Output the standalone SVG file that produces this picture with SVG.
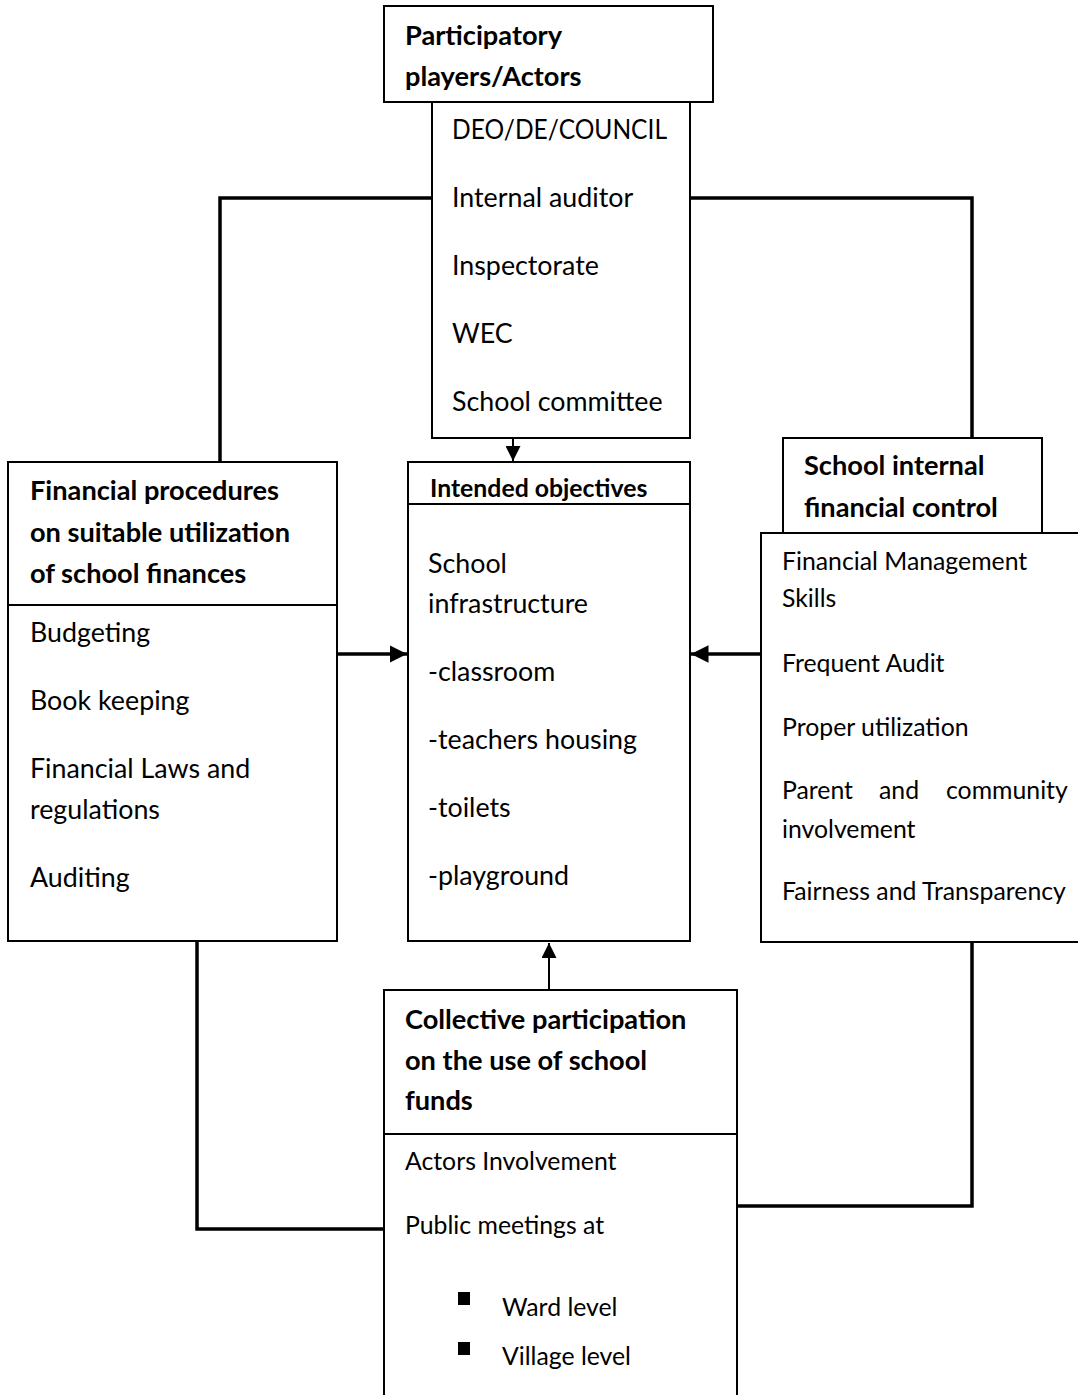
<svg xmlns="http://www.w3.org/2000/svg" width="1078" height="1395" viewBox="0 0 1078 1395">
<defs>
<style>
.box{fill:#fff;stroke:#000;stroke-width:2}
.div{stroke:#000;stroke-width:2;fill:none}
.con{stroke:#000;stroke-width:3.5;fill:none}
.thin{stroke:#000;stroke-width:2;fill:none}
text{font-family:Lato,"Liberation Sans",sans-serif;fill:#000}
.h{font-weight:bold;font-size:27.2px}
.hs{font-weight:bold;font-size:24.8px}
.t{font-size:26.8px}
.s{font-size:24.8px}
</style>
<marker id="ah" viewBox="0 0 10 10" refX="10" refY="5" markerWidth="5" markerHeight="5" markerUnits="strokeWidth" orient="auto">
<path d="M0,0 L10,5 L0,10 z" fill="#000"/>
</marker>
<marker id="ahs" viewBox="0 0 10 10" refX="10" refY="5" markerWidth="7.5" markerHeight="7.5" markerUnits="strokeWidth" orient="auto">
<path d="M0,0 L10,5 L0,10 z" fill="#000"/>
</marker>
</defs>
<rect width="1078" height="1395" fill="#fff"/>
<g id="connectors">
<polyline class="con" points="432,198 220,198 220,462"/>
<polyline class="con" points="690,198 972,198 972,438"/>
<polyline class="con" points="197,941 197,1229 384,1229"/>
<polyline class="con" points="972,941 972,1206 737,1206"/>
<line class="con" x1="337" y1="654" x2="407" y2="654" marker-end="url(#ah)"/>
<line class="con" x1="761" y1="654" x2="691" y2="654" marker-end="url(#ah)"/>
<line class="thin" x1="513" y1="438" x2="513" y2="461" marker-end="url(#ahs)"/>
<line class="thin" x1="549" y1="990" x2="549" y2="943" marker-end="url(#ahs)"/>
</g>
<g id="actors-title">
<rect class="box" x="384" y="6" width="329" height="96"/>
<text class="h" x="405" y="45">Participatory</text>
<text class="h" x="405" y="86">players/Actors</text>
</g>
<g id="actors-list">
<rect class="box" x="432" y="102" width="258" height="336"/>
<text class="t" x="452" y="139" textLength="215" lengthAdjust="spacingAndGlyphs">DEO/DE/COUNCIL</text>
<text class="t" x="452" y="207">Internal auditor</text>
<text class="t" x="452" y="275">Inspectorate</text>
<text class="t" x="452" y="343">WEC</text>
<text class="t" x="452" y="411">School committee</text>
</g>
<g id="financial-procedures">
<rect class="box" x="8" y="462" width="329" height="479"/>
<line class="div" x1="8" y1="605" x2="337" y2="605"/>
<text class="h" x="30" y="500">Financial procedures</text>
<text class="h" x="30" y="542">on suitable utilization</text>
<text class="h" x="30" y="583">of school finances</text>
<text class="t" x="30" y="642">Budgeting</text>
<text class="t" x="30" y="710">Book keeping</text>
<text class="t" x="30" y="778">Financial Laws and</text>
<text class="t" x="30" y="819">regulations</text>
<text class="t" x="30" y="887">Auditing</text>
</g>
<g id="intended-objectives">
<rect class="box" x="408" y="462" width="282" height="479"/>
<line class="div" x1="408" y1="504" x2="690" y2="504"/>
<text class="hs" x="430" y="497">Intended objectives</text>
<text class="t" x="428" y="573">School</text>
<text class="t" x="428" y="613">infrastructure</text>
<text class="t" x="428" y="681">-classroom</text>
<text class="t" x="428" y="749">-teachers housing</text>
<text class="t" x="428" y="817">-toilets</text>
<text class="t" x="428" y="885">-playground</text>
</g>
<g id="internal-control-title">
<rect class="box" x="783" y="438" width="259" height="95"/>
<text class="h" x="804" y="475">School internal</text>
<text class="h" x="804" y="517">financial control</text>
</g>
<g id="internal-control-list">
<rect class="box" x="761" y="533" width="320" height="409"/>
<text class="s" x="782" y="570">Financial Management</text>
<text class="s" x="782" y="607">Skills</text>
<text class="s" x="782" y="672">Frequent Audit</text>
<text class="s" x="782" y="736">Proper utilization</text>
<text class="s" y="799"><tspan x="782">Parent</tspan><tspan x="879">and</tspan><tspan x="946">community</tspan></text>
<text class="s" x="782" y="838">involvement</text>
<text class="s" x="782" y="900">Fairness and Transparency</text>
</g>
<g id="collective-participation">
<rect class="box" x="384" y="990" width="353" height="410"/>
<line class="div" x1="384" y1="1134" x2="737" y2="1134"/>
<text class="h" x="405" y="1029">Collective participation</text>
<text class="h" x="405" y="1070">on the use of school</text>
<text class="h" x="405" y="1110">funds</text>
<text class="s" x="405" y="1170">Actors Involvement</text>
<text class="s" x="405" y="1234">Public meetings at</text>
<rect x="458" y="1292" width="12" height="13" fill="#000"/>
<text class="s" x="502" y="1316">Ward level</text>
<rect x="458" y="1342" width="12" height="13" fill="#000"/>
<text class="s" x="502" y="1365">Village level</text>
</g>
</svg>
